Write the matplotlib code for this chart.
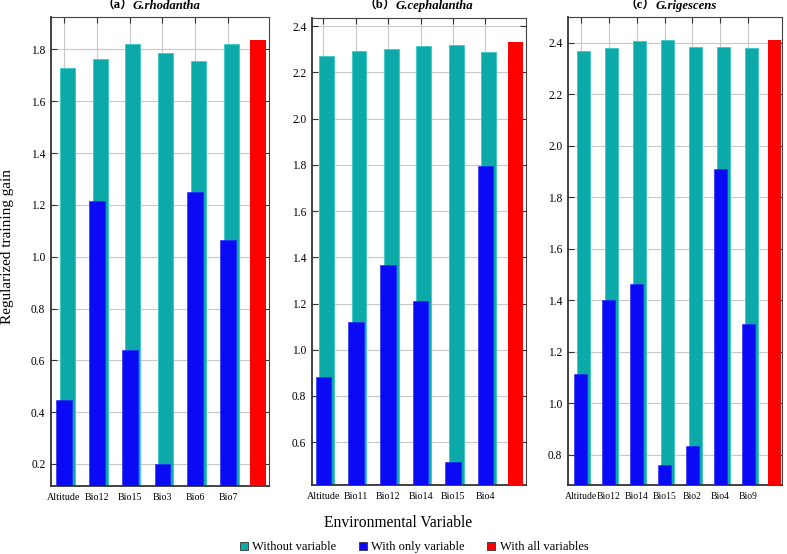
import matplotlib
matplotlib.use("Agg")
import matplotlib.pyplot as plt
from matplotlib.lines import Line2D
import numpy as np

plt.rcParams['font.family'] = ['Liberation Serif', 'Noto Sans CJK SC', 'DejaVu Sans']

# ---------------- data ----------------
labels_a = ["Altitude", "Bio12", "Bio15", "Bio3", "Bio6", "Bio7"]
without_a = [1.73, 1.762, 1.822, 1.786, 1.755, 1.822]
only_a = [0.445, 1.215, 0.64, 0.2, 1.25, 1.065]
all_a = 1.836

labels_b = ["Altitude", "Bio11", "Bio12", "Bio14", "Bio15", "Bio4"]
without_b = [2.27, 2.292, 2.30, 2.315, 2.32, 2.288]
only_b = [0.88, 1.12, 1.365, 1.21, 0.515, 1.795]
all_b = 2.332

labels_c = ["Altitude", "Bio12", "Bio14", "Bio15", "Bio2", "Bio4", "Bio9"]
without_c = [2.367, 2.38, 2.405, 2.41, 2.385, 2.385, 2.38]
only_c = [1.115, 1.40, 1.465, 0.76, 0.835, 1.91, 1.31]
all_c = 2.412

panel_letters = ["a", "b", "c"]
species = ["G.rhodantha", "G.cephalantha", "G.rigescens"]
legend_labels = ["Without variable", "With only variable", "With all variables"]

TEAL = "#0BAAA8"
BLUE = "#0A0AF5"
RED = "#FF0000"

fig = plt.figure(figsize=(7.87, 5.54), dpi=100)
W, H = 787, 554

def ax_at(l, r, t, b):
    return fig.add_axes([l / W, 1 - b / H, (r - l) / W, (b - t) / H])

panels = [
    dict(labels=labels_a, wo=without_a, only=only_a, all=all_a,
         rect=(51, 269, 17, 486), xlim=(-0.40, 6.25), ylim=(0.115, 1.925),
         yticks=np.arange(0.2, 1.81, 0.2), split=133, xfs=7.2),
    dict(labels=labels_b, wo=without_b, only=only_b, all=all_b,
         rect=(312, 526, 18, 485), xlim=(-0.35, 6.25), ylim=(0.415, 2.435),
         yticks=np.arange(0.6, 2.41, 0.2), split=396, xfs=7.2),
    dict(labels=labels_c, wo=without_c, only=only_c, all=all_c,
         rect=(568, 782, 17, 485), xlim=(-0.45, 7.2), ylim=(0.683, 2.50),
         yticks=np.arange(0.8, 2.41, 0.2), split=656, xfs=6.9),
]

for k, p in enumerate(panels):
    ax = ax_at(*p["rect"])
    n = len(p["labels"])
    x = np.arange(n)
    ax.bar(x + 0.10, p["wo"], width=0.46, color=TEAL, edgecolor="#3cc8c8",
           linewidth=0.6, zorder=2)
    ax.bar(x, p["only"], width=0.48, color=BLUE, edgecolor="#2020ff",
           linewidth=0.4, zorder=3)
    ax.bar([n - 0.08], [p["all"]], width=0.47, color=RED, zorder=3)
    ax.set_xlim(*p["xlim"])
    ax.set_ylim(*p["ylim"])
    ax.set_xticks(x)
    ax.set_xticklabels(p["labels"], fontsize=p["xfs"])
    ax.set_yticks(p["yticks"])
    ax.set_yticklabels([f"{v:.1f}" for v in p["yticks"]], fontsize=8.3)
    ax.grid(True, color="#c8c8c8", linewidth=0.8, zorder=0)
    ax.set_axisbelow(True)
    ax.tick_params(axis="y", direction="in", left=True, right=True, length=4,
                   width=0.8, color="#333333", pad=4)
    ax.tick_params(axis="x", direction="in", bottom=False, top=True, length=4,
                   width=0.8, color="#333333", pad=5)
    for side in ["left", "bottom"]:
        ax.spines[side].set_color("#333333")
        ax.spines[side].set_linewidth(1.3)
    for side in ["top", "right"]:
        ax.spines[side].set_color("#444444")
        ax.spines[side].set_linewidth(0.8)
    ty = 1 - 6 / H
    fig.text(p["split"] / W, ty, f"（{panel_letters[k]}）", ha="right", va="center",
             fontsize=9.2, fontweight="bold",
             family=["Liberation Serif", "Noto Sans CJK SC"])
    fig.text(p["split"] / W, ty, species[k], ha="left", va="center",
             fontsize=9.2, fontweight="bold", style="italic",
             family="Liberation Serif")

fig.text(8 / W, 1 - 247 / H, "Regularized training gain", rotation=90,
         ha="center", va="center", fontsize=11)
fig.text(398 / W, 1 - 523 / H, "Environmental Variable", ha="center",
         va="center", fontsize=11.2)

handles = [Line2D([], [], marker="s", linestyle="none", markersize=6,
                  markerfacecolor=c, markeredgecolor="#333333",
                  markeredgewidth=0.6) for c in (TEAL, BLUE, RED)]
fig.legend(handles, legend_labels, loc="center", ncol=3, frameon=False,
           bbox_to_anchor=(413 / W, 1 - 547 / H), fontsize=9,
           handletextpad=0.2, columnspacing=1.6, handlelength=1.0,
           borderaxespad=0, borderpad=0)

fig.savefig("out.png", dpi=100)
